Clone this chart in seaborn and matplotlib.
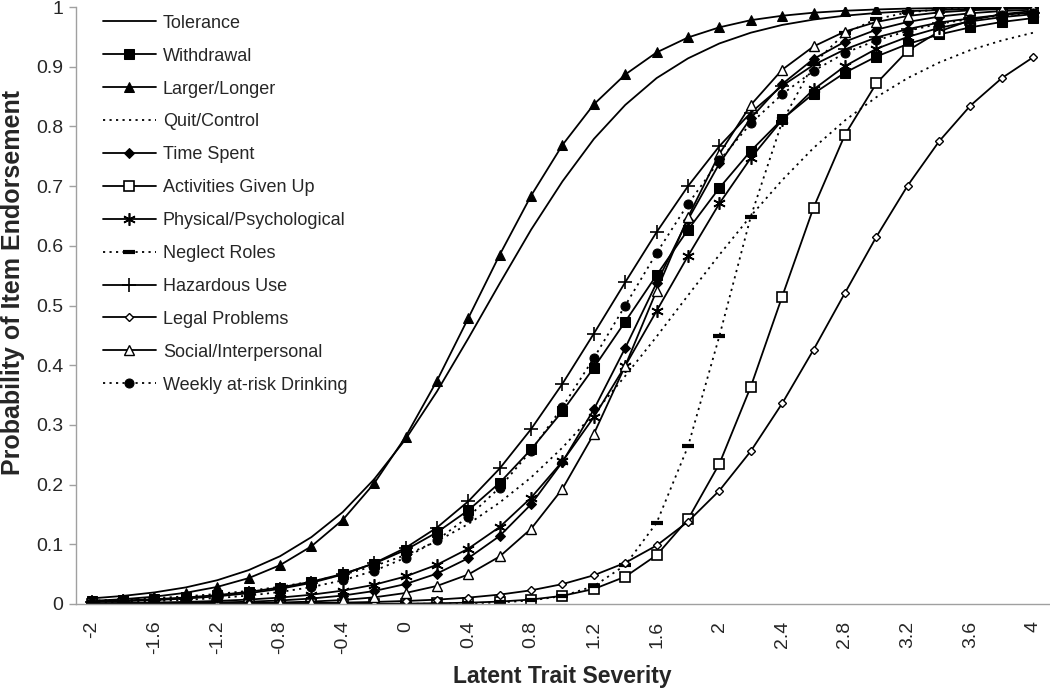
import matplotlib
matplotlib.use("Agg")
import matplotlib.pyplot as plt
import seaborn as sns

# latent trait grid (Excel category axis)
theta = [-2.0, -1.8, -1.6, -1.4, -1.2, -1.0, -0.8, -0.6, -0.4, -0.2, 0.0,
         0.2, 0.4, 0.6, 0.8, 1.0, 1.2, 1.4, 1.6, 1.8, 2.0,
         2.2, 2.4, 2.6, 2.8, 3.0, 3.2, 3.4, 3.6, 3.8, 4.0]

tolerance = [0.0094, 0.0135, 0.0194, 0.0278, 0.0398, 0.0567, 0.080, 0.112, 0.154, 0.209, 0.276,
             0.356, 0.445, 0.537, 0.627, 0.708, 0.779, 0.836, 0.881, 0.914, 0.939,
             0.957, 0.970, 0.979, 0.9855, 0.990, 0.993, 0.995, 0.9967, 0.9977, 0.9984]
withdrawal = [0.0043, 0.0059, 0.0080, 0.0109, 0.0149, 0.0203, 0.0276, 0.0373, 0.0504, 0.0677, 0.0905,
              0.120, 0.157, 0.203, 0.259, 0.323, 0.396, 0.473, 0.551, 0.627, 0.697,
              0.759, 0.812, 0.855, 0.890, 0.917, 0.938, 0.954, 0.966, 0.975, 0.9815]
larger_longer = [0.0052, 0.0080, 0.0123, 0.0188, 0.0286, 0.0433, 0.065, 0.0966, 0.141, 0.202, 0.280,
                 0.374, 0.479, 0.585, 0.684, 0.769, 0.837, 0.887, 0.924, 0.949, 0.966,
                 0.978, 0.9854, 0.9905, 0.9938, 0.9959, 0.9974, 0.9983, 0.9989, 0.9993, 0.9995]
quit_control = [0.0056, 0.0074, 0.0097, 0.0128, 0.0168, 0.0220, 0.0288, 0.0376, 0.0489, 0.0635, 0.082,
                0.105, 0.134, 0.170, 0.212, 0.262, 0.319, 0.382, 0.448, 0.517, 0.585,
                0.650, 0.710, 0.764, 0.810, 0.849, 0.881, 0.907, 0.928, 0.944, 0.957]
time_spent = [0.0004, 0.0007, 0.0010, 0.0016, 0.0025, 0.0038, 0.0059, 0.0091, 0.0141, 0.0217, 0.0334,
              0.0509, 0.0768, 0.114, 0.167, 0.238, 0.326, 0.429, 0.538, 0.644, 0.738,
              0.814, 0.871, 0.913, 0.942, 0.962, 0.975, 0.984, 0.9896, 0.9933, 0.9956]
activities = [0.0000, 0.0000, 0.0000, 0.0000, 0.0000, 0.0000, 0.0001, 0.0001, 0.0002, 0.0003, 0.0006,
              0.0012, 0.0022, 0.0040, 0.0074, 0.0137, 0.0251, 0.0457, 0.0818, 0.142, 0.235,
              0.364, 0.515, 0.664, 0.786, 0.872, 0.927, 0.959, 0.978, 0.988, 0.9934]
physical = [0.0012, 0.0017, 0.0024, 0.0035, 0.0051, 0.0074, 0.0107, 0.0155, 0.0224, 0.0322, 0.0461,
            0.0657, 0.0927, 0.129, 0.178, 0.239, 0.313, 0.399, 0.491, 0.583, 0.671,
            0.747, 0.811, 0.862, 0.901, 0.930, 0.950, 0.965, 0.976, 0.983, 0.988]
neglect = [0.0000, 0.0000, 0.0000, 0.0000, 0.0000, 0.0000, 0.0000, 0.0000, 0.0000, 0.0001, 0.0002,
           0.0005, 0.0012, 0.0026, 0.0059, 0.0133, 0.0298, 0.0651, 0.136, 0.264, 0.449,
           0.649, 0.808, 0.905, 0.956, 0.980, 0.991, 0.996, 0.9983, 0.9992, 0.9997]
hazardous = [0.0033, 0.0046, 0.0065, 0.0091, 0.0128, 0.0180, 0.0253, 0.0354, 0.0494, 0.0684, 0.094,
             0.128, 0.172, 0.227, 0.293, 0.369, 0.453, 0.539, 0.623, 0.700, 0.767,
             0.823, 0.868, 0.903, 0.929, 0.949, 0.963, 0.974, 0.981, 0.987, 0.9906]
legal = [0.0001, 0.0002, 0.0002, 0.0003, 0.0005, 0.0007, 0.0011, 0.0016, 0.0023, 0.0034, 0.0050,
         0.0073, 0.0107, 0.0157, 0.0229, 0.0333, 0.0481, 0.069, 0.098, 0.138, 0.190,
         0.256, 0.336, 0.426, 0.521, 0.615, 0.701, 0.775, 0.835, 0.881, 0.916]
social = [0.0001, 0.0002, 0.0003, 0.0005, 0.0009, 0.0015, 0.0024, 0.0040, 0.0067, 0.0111, 0.0184,
          0.0302, 0.0494, 0.0796, 0.126, 0.193, 0.285, 0.399, 0.525, 0.648, 0.754,
          0.836, 0.895, 0.934, 0.959, 0.975, 0.985, 0.991, 0.9945, 0.9967, 0.998]
weekly = [0.0024, 0.0035, 0.0049, 0.0070, 0.0099, 0.0141, 0.0200, 0.0282, 0.0397, 0.0556, 0.0774,
          0.107, 0.146, 0.195, 0.257, 0.330, 0.412, 0.500, 0.588, 0.670, 0.743,
          0.805, 0.854, 0.893, 0.923, 0.944, 0.960, 0.972, 0.980, 0.986, 0.990]

x_tick_labels = ["-2", "-1.6", "-1.2", "-0.8", "-0.4", "0", "0.4", "0.8", "1.2",
                 "1.6", "2", "2.4", "2.8", "3.2", "3.6", "4"]
y_ticks = [0.0, 0.1, 0.2, 0.3, 0.4, 0.5, 0.6, 0.7, 0.8, 0.9, 1.0]

sns.set_style("white")
plt.rcParams["font.family"] = ["Liberation Sans", "DejaVu Sans"]
plt.rcParams["axes.unicode_minus"] = False

DOT = (0, (1.2, 2.4))
series = [
    ("Tolerance", tolerance, dict(linestyle="-")),
    ("Withdrawal", withdrawal, dict(linestyle="-", marker="s", markersize=6.5)),
    ("Larger/Longer", larger_longer, dict(linestyle="-", marker="^", markersize=7.5)),
    ("Quit/Control", quit_control, dict(linestyle=DOT)),
    ("Time Spent", time_spent, dict(linestyle="-", marker="D", markersize=5.5)),
    ("Activities Given Up", activities, dict(linestyle="-", marker="s", markersize=7,
                                             markerfacecolor="white", markeredgewidth=1.2)),
    ("Physical/Psychological", physical, dict(linestyle="-", marker=(6, 2, 0), markersize=9,
                                              markeredgewidth=1.2)),
    ("Neglect Roles", neglect, dict(linestyle=DOT, marker="_", markersize=8, markeredgewidth=3)),
    ("Hazardous Use", hazardous, dict(linestyle="-", marker="+", markersize=10, markeredgewidth=1.2)),
    ("Legal Problems", legal, dict(linestyle="-", marker="D", markersize=4.5,
                                   markerfacecolor="white", markeredgewidth=1.0)),
    ("Social/Interpersonal", social, dict(linestyle="-", marker="^", markersize=7,
                                          markerfacecolor="white", markeredgewidth=1.0)),
    ("Weekly at-risk Drinking", weekly, dict(linestyle=DOT, marker="o", markersize=6.5)),
]

fig = plt.figure(figsize=(10.5, 6.89), dpi=100)
ax = fig.add_axes([0.0724, 0.1234, 0.9266, 0.8664])

for name, vals, style in series:
    style.setdefault("markeredgecolor", "black")
    style.setdefault("markerfacecolor", "black")
    sns.lineplot(x=theta, y=vals, ax=ax, color="black", linewidth=1.3,
                 label=name, **style)

# category-style x axis: labels every other point, ticks between categories
ax.set_xlim(theta[0] - 0.1, theta[-1] + 0.1)
ax.set_xticks(theta[::2])
ax.set_xticklabels(x_tick_labels, rotation=90, fontsize=14)
ax.set_xticks([t - 0.1 for t in theta] + [theta[-1] + 0.1], minor=True)
ax.tick_params(axis="x", which="major", length=0, pad=12)
ax.tick_params(axis="x", which="minor", length=5, color="#a0a0a0", width=1, direction="out")

ax.set_ylim(0, 1)
ax.set_yticks(y_ticks)
ax.set_yticklabels([f"{v:g}" for v in y_ticks], fontsize=14)
ax.tick_params(axis="y", length=5, color="#a0a0a0", width=1, direction="out", left=True, pad=4)

for side in ["top", "right"]:
    ax.spines[side].set_visible(False)
for side in ["left", "bottom"]:
    ax.spines[side].set_color("#a0a0a0")
    ax.spines[side].set_linewidth(1)

ax.set_xlabel("Latent Trait Severity", fontsize=16.5, fontweight="bold")
ax.xaxis.set_label_coords(0.5, -0.102)
ax.set_ylabel("Probability of Item Endorsement", fontsize=18, fontweight="bold")
ax.yaxis.set_label_coords(-0.052, 0.539)

ax.legend(loc="upper left", bbox_to_anchor=(0.028, 0.987), frameon=False, fontsize=13,
          handlelength=2.9, handletextpad=0.4, labelspacing=0.88, borderpad=0,
          borderaxespad=0, numpoints=1)

fig.savefig("out.png", dpi=100)
